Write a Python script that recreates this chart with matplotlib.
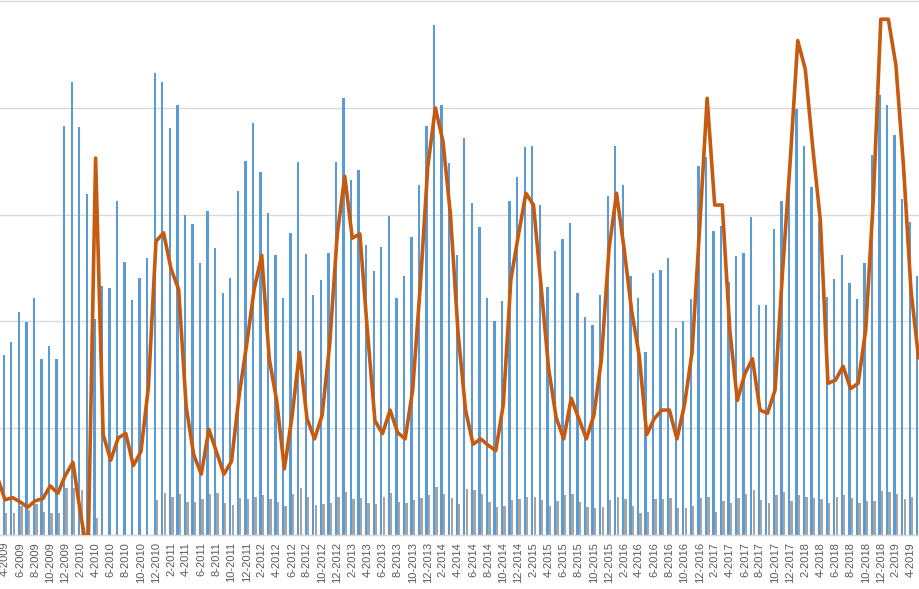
import numpy as np
import pandas as pd
import matplotlib
matplotlib.use("Agg")
import matplotlib.pyplot as plt

# monthly series, 3-2009 .. 5-2019 (first and last month only partly inside the frame)
months = pd.period_range("2009-03", "2019-05", freq="M")
labels = [f"{p.month}-{p.year}" for p in months]

blue = [np.nan,
        1.69, 1.81, 2.09, 1.99, 2.22, 1.65, 1.77, 1.65, 3.83, 4.24,
        3.82, 3.19, 2.02, 2.33, 2.31, 3.13, 2.56, 2.20, 2.41, 2.59,
        4.33, 4.24, 3.81, 4.03, 3.00, 2.91, 2.55, 3.03, 2.69, 2.27,
        2.41, 3.22, 3.50, 3.86, 3.40, 3.02, 2.62, 2.22, 2.83, 3.49,
        2.63, 2.25, 2.39, 2.64, 3.49, 4.09, 3.32, 3.42, 2.72, 2.47,
        2.70, 2.99, 2.22, 2.43, 2.79, 3.28, 3.83, 4.78, 4.03, 3.48,
        2.62, 3.72, 3.11, 2.88, 2.22, 2.00, 2.19, 3.13, 3.35, 3.63,
        3.64, 3.09, 2.32, 2.66, 2.77, 2.92, 2.27, 2.04, 1.97, 2.25,
        3.17, 3.64, 3.28, 2.43, 2.22, 1.71, 2.45, 2.48, 2.59, 1.94,
        2.00, 2.21, 3.46, 3.54, 2.85, 2.89, 2.37, 2.61, 2.64, 2.98,
        2.15, 2.15, 2.87, 3.13, 3.46, 3.99, 3.64, 3.26, 2.94, 2.23,
        2.40, 2.62, 2.36, 2.21, 2.55, 3.56, 4.12, 4.03, 3.75, 3.15,
        2.93, 2.43]

gray = [np.nan,
        0.21, 0.21, 0.27, 0.23, 0.29, 0.22, 0.21, 0.21, 0.44, 0.44,
        0.42, np.nan, 0.16, np.nan, np.nan, np.nan, np.nan, np.nan, np.nan, np.nan,
        0.33, 0.39, 0.36, 0.38, 0.31, 0.31, 0.34, 0.38, 0.39, 0.30,
        0.28, 0.35, 0.34, 0.36, 0.37, 0.34, 0.31, 0.27, 0.38, 0.44,
        0.36, 0.28, 0.29, 0.30, 0.36, 0.40, 0.34, 0.35, 0.30, 0.29,
        0.36, 0.39, 0.31, 0.30, 0.33, 0.35, 0.37, 0.45, 0.38, 0.35,
        0.29, 0.43, 0.42, 0.38, 0.31, 0.26, 0.27, 0.33, 0.34, 0.36,
        0.36, 0.33, 0.27, 0.32, 0.37, 0.38, 0.31, 0.26, 0.25, 0.26,
        0.33, 0.36, 0.34, 0.27, 0.21, 0.22, 0.34, 0.34, 0.35, 0.25,
        0.25, 0.27, 0.35, 0.36, 0.22, 0.32, 0.30, 0.35, 0.38, 0.42,
        0.33, 0.30, 0.37, 0.40, 0.32, 0.37, 0.36, 0.35, 0.34, 0.30,
        0.36, 0.37, 0.35, 0.30, 0.32, 0.32, 0.41, 0.40, 0.38, 0.34,
        0.36, 0.35]

line = [0.54,
        0.33, 0.35, 0.31, 0.26, 0.32, 0.34, 0.46, 0.39, 0.56, 0.68,
        0.20, -0.20, 3.53, 0.94, 0.70, 0.91, 0.95, 0.65, 0.78, 1.39,
        2.75, 2.83, 2.49, 2.30, 1.20, 0.75, 0.57, 0.99, 0.78, 0.57,
        0.69, 1.30, 1.78, 2.30, 2.62, 1.65, 1.25, 0.62, 1.10, 1.71,
        1.09, 0.90, 1.12, 1.78, 2.81, 3.36, 2.78, 2.82, 1.91, 1.07,
        0.95, 1.17, 0.96, 0.90, 1.36, 2.33, 3.45, 4.00, 3.69, 3.00,
        1.90, 1.17, 0.85, 0.90, 0.84, 0.79, 1.22, 2.39, 2.81, 3.20,
        3.09, 2.33, 1.56, 1.10, 0.90, 1.28, 1.09, 0.90, 1.12, 1.65,
        2.68, 3.20, 2.68, 2.10, 1.68, 0.94, 1.09, 1.17, 1.17, 0.90,
        1.22, 1.71, 2.87, 4.09, 3.09, 3.09, 1.92, 1.26, 1.51, 1.65,
        1.17, 1.14, 1.36, 2.48, 3.50, 4.63, 4.36, 3.62, 2.94, 1.42,
        1.45, 1.58, 1.37, 1.42, 1.92, 3.13, 4.83, 4.83, 4.40, 3.46,
        2.29, 1.66]

x = np.arange(len(months))

fig = plt.figure(figsize=(9.19, 5.89), dpi=100)
ax = fig.add_axes([0, 54 / 589, 1, 535 / 589])

ax.bar(x - 0.165, blue, width=0.31, color="#5B9BD5", zorder=2)
ax.bar(x + 0.165, gray, width=0.31, color="#A5A5A5", zorder=2)
ax.plot(x, line, color="#C55A11", lw=2.6, zorder=3)

ax.set_xlim(1 - 0.662, 1 + 121.06)
ax.set_ylim(0, 5.01)
ax.set_yticks([0, 1, 2, 3, 4, 5])
ax.yaxis.grid(True, color="#D9D9D9", lw=1.0, zorder=0)
ax.set_axisbelow(True)
ax.tick_params(axis="y", length=0, labelleft=False)

even = [i for i, p in enumerate(months) if p.month % 2 == 0]
ax.set_xticks(even)
ax.set_xticklabels([labels[i] for i in even], rotation=90,
                   fontsize=8, color="#595959", family="Liberation Sans")
ax.tick_params(axis="x", length=0, pad=5)

for s in ["top", "left", "right"]:
    ax.spines[s].set_visible(False)
ax.spines["bottom"].set_color("#D9D9D9")
ax.spines["bottom"].set_linewidth(1.0)

fig.savefig("out.png", dpi=100)
